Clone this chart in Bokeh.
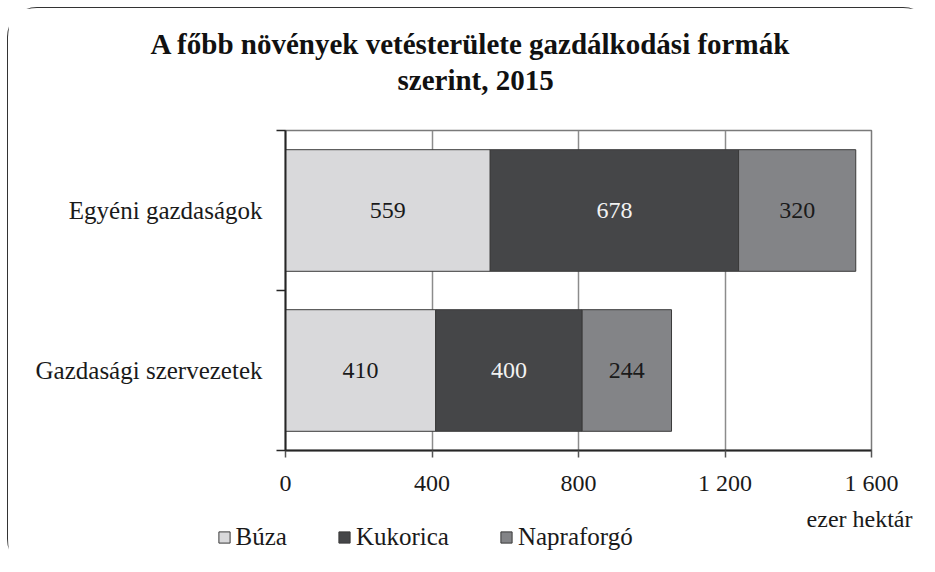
from bokeh.plotting import figure
from bokeh.layouts import column, row
from bokeh.models import (ColumnDataSource, FixedTicker, Legend, LegendItem, Title, Label,
                          Range1d, InlineStyleSheet)
from bokeh.core.properties import value
from bokeh.embed import file_html
from bokeh.resources import INLINE

# ---------------- data ----------------
categories = ["Egyéni gazdaságok", "Gazdasági szervezetek"]
series = ["Búza", "Kukorica", "Napraforgó"]
buza = [559, 410]
kukorica = [678, 400]
napraforgo = [320, 244]
x_ticks = [0, 400, 800, 1200, 1600]
x_tick_labels = ["0", "400", "800", "1 200", "1 600"]
title_lines = ["A főbb növények vetésterülete gazdálkodási formák", "szerint, 2015"]
unit_label = "ezer hektár"

# ---------------- style ----------------
colors = ["#d9d9db", "#454648", "#838487"]
label_colors = ["#1a1a1a", "#f2f2f2", "#1a1a1a"]
FONT = "Liberation Serif"

W = 924
H1, H2 = 492, 68
L, R, T, B = 277, 61, 122, 50

n = len(categories)
y_pos = [n - 0.5 - i for i in range(n)]

data = dict(y=y_pos, cat=categories)
values = [buza, kukorica, napraforgo]
for s, v in zip(series, values):
    data[s] = v
src = ColumnDataSource(data)

p = figure(width=W, height=H1, x_range=Range1d(x_ticks[0], x_ticks[-1]),
           y_range=Range1d(0, n), output_backend="svg", toolbar_location=None,
           min_border_left=L, min_border_right=R, min_border_top=T, min_border_bottom=B)
p.title = None
p.background_fill_color = "white"
p.border_fill_color = "white"
p.outline_line_color = "#7a7a7a"
p.outline_line_width = 1.5

renderers = p.hbar_stack(series, y="y", height=0.76, color=colors, source=src,
                         line_color="#3a3a3a", line_width=1)

# value labels
left = [0] * n
for s, v, tc in zip(series, values, label_colors):
    mids = [l + val / 2 for l, val in zip(left, v)]
    lsrc = ColumnDataSource(dict(x=mids, y=y_pos, t=[str(val) for val in v]))
    p.text(x="x", y="y", text="t", source=lsrc, text_align="center",
           text_baseline="middle", text_color=tc, text_font=value(FONT),
           text_font_size="24px")
    left = [l + val for l, val in zip(left, v)]

# x axis
xa = p.xaxis[0]
xa.ticker = FixedTicker(ticks=x_ticks)
xa.major_label_overrides = {t: lab for t, lab in zip(x_ticks, x_tick_labels)}
xa.axis_line_color = "#262626"
xa.axis_line_width = 2
xa.major_tick_out = 7
xa.major_tick_in = 0
xa.major_tick_line_color = "#555555"
xa.major_tick_line_width = 1.5
xa.minor_tick_line_color = None
xa.major_label_text_font = FONT
xa.major_label_text_font_size = "24px"
xa.major_label_text_color = "#1a1a1a"
xa.major_label_standoff = 12

# y axis
ya = p.yaxis[0]
ya.ticker = FixedTicker(ticks=y_pos, minor_ticks=list(range(n + 1)))
ya.major_label_overrides = {y: c for y, c in zip(y_pos, categories)}
ya.axis_line_color = "#262626"
ya.axis_line_width = 2
ya.major_tick_out = 0
ya.major_tick_in = 0
ya.minor_tick_out = 9
ya.minor_tick_in = 0
ya.minor_tick_line_color = "#262626"
ya.minor_tick_line_width = 1.5
ya.major_label_text_font = FONT
ya.major_label_text_font_size = "25px"
ya.major_label_text_color = "#1a1a1a"
ya.major_label_standoff = 14

p.xgrid.grid_line_color = "#8c8c8c"
p.xgrid.grid_line_width = 1.5
p.xgrid.ticker = FixedTicker(ticks=x_ticks)
p.ygrid.grid_line_color = None

# titles (above): spacer, line 2, line 1 -- stacked outward from the frame
p.add_layout(Title(text=" ", text_font_size="1px", standoff=32), "above")
p.add_layout(Title(text=title_lines[1], align="left", offset=112, standoff=0,
                   text_font=FONT, text_font_size="29px", text_font_style="bold",
                   text_color="#111111"), "above")
p.add_layout(Title(text=title_lines[0], align="left", offset=-135, standoff=3,
                   text_font=FONT, text_font_size="29px", text_font_style="bold",
                   text_color="#111111"), "above")

# ---------------- legend strip (second figure, same width) ----------------
p2 = figure(width=W, height=H2, x_range=Range1d(0, W), y_range=Range1d(0, H2),
            x_axis_type=None, y_axis_type=None, min_border=0,
            min_border_left=0, min_border_right=0, min_border_top=0, min_border_bottom=0,
            output_backend="svg", toolbar_location=None)
p2.outline_line_color = None
p2.background_fill_color = "white"
p2.border_fill_color = "white"
p2.xgrid.grid_line_color = None
p2.ygrid.grid_line_color = None

# hidden copies of the series (same data) that only feed the legend
leg_renderers = [p2.hbar(y="y", right=s, height=0.76, source=src, fill_color=c,
                         line_color="#3a3a3a", line_width=1, visible=False)
                 for s, c in zip(series, colors)]
items = [LegendItem(label=s, renderers=[r]) for s, r in zip(series, leg_renderers)]
legend = Legend(items=items, orientation="horizontal", location=(209, 17),
                glyph_width=14, glyph_height=14, label_standoff=5, spacing=50,
                padding=0, margin=0, border_line_color=None,
                background_fill_alpha=0, inactive_fill_alpha=0,
                label_text_font=FONT,
                label_text_font_size="25px", label_text_color="#1a1a1a",
                label_height=22)
p2.add_layout(legend, "center")

p2.add_layout(Label(x=904, y=50, text=unit_label, text_align="right",
                    text_baseline="alphabetic", text_font=FONT, text_font_size="24px",
                    text_color="#1a1a1a"))

root = column(p, row(p2), spacing=0)
root.stylesheets = [InlineStyleSheet(css=""":host {
  margin-left: 6.5px; margin-top: 6.5px;
  border-left: 1.5px solid #333; border-top: 1.5px solid #333;
  border-right: 1.5px solid transparent; border-bottom: 1.5px solid transparent;
  border-radius: 30px; }""")]

open("out.html", "w").write(file_html(root, INLINE))
